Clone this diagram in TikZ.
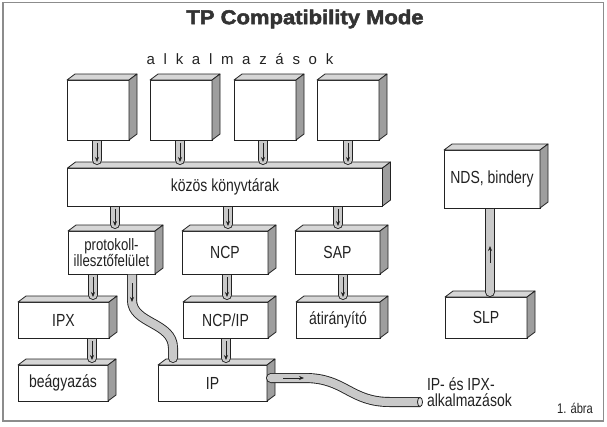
\documentclass[tikz,border=0pt]{standalone}
\usepackage{fontspec}
\setmainfont{Liberation Sans}
\newfontfamily\boxfont{Liberation Sans}[FakeStretch=0.8]
\newfontfamily\titlefont{Liberation Sans Bold}[FakeBold=2.5,FakeStretch=1.1]
\usetikzlibrary{calc,arrows.meta}

\definecolor{edge}{HTML}{222222}
\definecolor{topface}{HTML}{D6D6D6}
\definecolor{sideface}{HTML}{9E9E9E}
\definecolor{pipefill}{HTML}{C9C9C9}
\definecolor{framegray}{HTML}{8C8C8C}
\definecolor{titlegray}{HTML}{333333}

\tikzset{
  blk/.style={draw=edge, line width=0.8pt, fill=white, inner sep=0pt, outer sep=0pt,
    align=center, font=\boxfont\fontsize{17.5}{17.5}\selectfont, text=edge},
  face/.style={draw=edge, line width=0.8pt, line join=round},
  pipeout/.style={draw=edge, line width=10pt},
  pipein/.style={draw=pipefill, line width=8.2pt},
  flow/.style={draw=edge, line width=0.7pt, -{Stealth[length=5pt,width=4pt]}},
  lbl/.style={inner sep=0pt, outer sep=0pt, text=edge, font=\boxfont\fontsize{17.5}{16}\selectfont},
}

\newcommand\cube[1]{%
  \filldraw[face, fill=topface] (#1.north west) -- ++(8,-6) -- ($(#1.north east)+(8,-6)$) -- (#1.north east) -- cycle;
  \filldraw[face, fill=sideface] (#1.north east) -- ++(8,-6) -- ($(#1.south east)+(8,-6)$) -- (#1.south east) -- cycle;
}
\newcommand\vpipe[2]{%
  \draw[pipeout] (#1) -- (#2);
  \fill[edge] (#2) circle (5pt);
  \draw[pipein] ($(#1)+(0,0.5)$) -- (#2);
  \fill[pipefill] (#2) circle (4.1pt);
  \draw[flow] ($(#1)+(0,3)$) -- ($(#2)+(0,2)$);
}

\begin{document}
\begin{tikzpicture}[x=1pt,y=-1pt]
\useasboundingbox (0,0) rectangle (607,426);
\draw[framegray, line width=1.2pt] (3,2.5) rectangle (603.5,421);

\node[text=titlegray, font=\titlefont\fontsize{20}{20}\selectfont, inner sep=0pt] (title) at (305,19) {TP Compatibility Mode};
\node[lbl, font=\fontsize{15}{15}\selectfont] (apps) at (240,59) {\spaceskip=8.7pt a l k a l m a z á s o k};

% boxes
\node[blk, minimum width=62pt, minimum height=60pt] (app1) at (98,110) {};
\node[blk, minimum width=62pt, minimum height=60pt] (app2) at (181,110) {};
\node[blk, minimum width=62pt, minimum height=60pt] (app3) at (265,110) {};
\node[blk, minimum width=62pt, minimum height=60pt] (app4) at (348,110) {};
\node[blk, minimum width=315pt, minimum height=38pt] (lib) at (225,187) {közös könyvtárak};
\node[blk, minimum width=87pt, minimum height=43pt, font=\boxfont\fontsize{16.5}{15}\selectfont] (proto) at (111.5,252.5) {protokoll-\\illesztőfelület};
\node[blk, minimum width=86pt, minimum height=43pt] (ncp) at (225,252.5) {NCP};
\node[blk, minimum width=85pt, minimum height=43pt] (sap) at (337.5,252.5) {SAP};
\node[blk, minimum width=91pt, minimum height=36pt] (ipx) at (63.5,320) {IPX};
\node[blk, minimum width=85pt, minimum height=36pt] (ncpip) at (225.5,320) {NCP/IP};
\node[blk, minimum width=84pt, minimum height=36pt] (atir) at (338,320) {átirányító};
\node[blk, minimum width=90pt, minimum height=36pt] (beag) at (63,383) {beágyazás};
\node[blk, minimum width=109pt, minimum height=36pt] (ip) at (212.5,383) {IP};
\node[blk, minimum width=96pt, minimum height=58pt] (nds) at (492,179) {NDS, bindery};
\node[blk, minimum width=82pt, minimum height=41pt] (slp) at (486,317.5) {SLP};

\foreach \b in {app1,app2,app3,app4,lib,proto,ncp,sap,ipx,ncpip,atir,beag,ip,nds,slp} {\cube{\b}}

% straight pipes
\coordinate (a1t) at ($(app1.south)+(-1,0)$);  \coordinate (a1b) at ($(app1.south |- lib.north)+(-1,-8)$);
\coordinate (a2t) at ($(app2.south)+(-1,0)$);  \coordinate (a2b) at ($(app2.south |- lib.north)+(-1,-8)$);
\coordinate (a3t) at ($(app3.south)+(-2,0)$);  \coordinate (a3b) at ($(app3.south |- lib.north)+(-2,-8)$);
\coordinate (a4t) at (app4.south);             \coordinate (a4b) at ($(app4.south |- lib.north)+(0,-8)$);
\coordinate (l1t) at ($(proto.north |- lib.south)+(3.5,0)$); \coordinate (l1b) at ($(proto.north)+(3.5,-7)$);
\coordinate (l2t) at ($(ncp.north |- lib.south)+(3,0)$);     \coordinate (l2b) at ($(ncp.north)+(3,-7)$);
\coordinate (l3t) at ($(sap.north |- lib.south)+(0.5,0)$);   \coordinate (l3b) at ($(sap.north)+(0.5,-7)$);
\coordinate (r1t) at ($(proto.south west)+(25,0)$);  \coordinate (r1b) at ($(proto.south west |- ipx.north)+(25,-7)$);
\coordinate (r2t) at ($(ncp.south)+(2,0)$);          \coordinate (r2b) at ($(ncp.south |- ncpip.north)+(2,-7)$);
\coordinate (r3t) at ($(sap.south)+(5.5,0)$);        \coordinate (r3b) at ($(sap.south |- atir.north)+(5.5,-7)$);
\coordinate (s1t) at ($(ipx.south)+(28.5,0)$);       \coordinate (s1b) at ($(ipx.south |- beag.north)+(28.5,-7)$);
\coordinate (s2t) at ($(ncpip.south)+(0.5,0)$);      \coordinate (s2b) at ($(ncpip.south |- ip.north)+(0.5,-7)$);
\foreach \p in {a1,a2,a3,a4,l1,l2,l3,r1,r2,r3,s1,s2} {\vpipe{\p t}{\p b}}

% SLP -> NDS
\coordinate (n1t) at ($(nds.south)+(-2,0)$);
\coordinate (n1b) at ($(slp.north)+(4,-5)$);
\draw[pipeout] (n1t) -- (n1b);
\fill[edge] (n1b) circle (5pt);
\draw[pipein] ($(n1t)+(0,0.5)$) -- (n1b);
\fill[pipefill] (n1b) circle (4.1pt);
\draw[flow] ($(n1t)+(0,55)$) -- ($(n1t)+(0,38)$);

% curved pipe protokoll -> IP
\coordinate (c1) at ($(proto.south)+(20.5,0)$);
\coordinate (c3) at ($(ip.north)+(-39.5,-7)$);
\coordinate (c2) at ($(c3)+(0,-10)$);
\draw[pipeout] (c1) -- ++(0,26) .. controls +(0,24) and +(0,-26) .. (c2) -- (c3);
\fill[edge] (c3) circle (5pt);
\draw[pipein] ($(c1)+(0,0.5)$) -- ++(0,25.5) .. controls +(0,24) and +(0,-26) .. (c2) -- (c3);
\fill[pipefill] (c3) circle (4.1pt);
\draw[flow] ($(c1)+(0,9)$) -- ($(c1)+(0,28)$);

% pipe from IP to applications
\coordinate (q1) at ($(ip.east)+(4,-5)$);
\coordinate (q4) at (420,402);
\coordinate (q3) at ($(q4)+(-30,0)$);
\fill[edge] (q1) circle (5pt);
\draw[pipeout] (q1) -- ++(34,0) .. controls +(40,0) and +(-40,0) .. (q3) -- (q4);
\fill[pipefill] (q1) circle (4.1pt);
\draw[pipein] (q1) -- ++(34,0) .. controls +(40,0) and +(-40,0) .. (q3) -- (q4);
\filldraw[fill=pipefill!50, draw=edge, line width=0.8pt] (q4) ellipse (2.5pt and 4.6pt);
\draw[flow] ($(q1)+(12,0)$) -- ($(q1)+(33,0)$);

\node[lbl, anchor=north west, align=left] (iptext) at (427,378) {IP- és IPX-\\alkalmazások};
\node[lbl, font=\boxfont\fontsize{14}{14}\selectfont] (fig) at (575,408) {1. ábra};
\end{tikzpicture}
\end{document}
